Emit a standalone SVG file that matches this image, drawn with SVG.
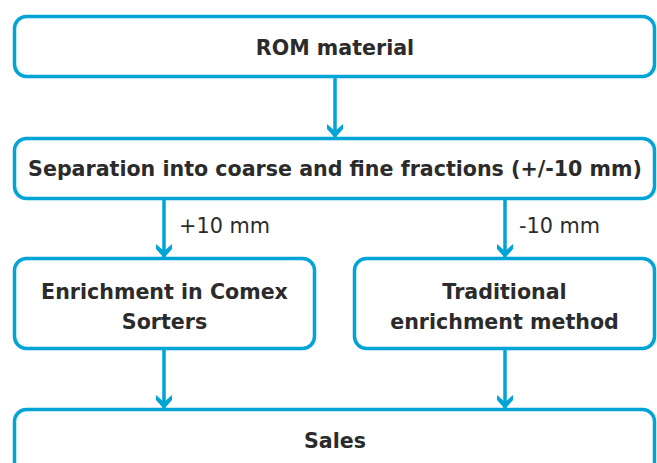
<svg xmlns="http://www.w3.org/2000/svg" width="657" height="463" viewBox="0 0 657 463">
<style>
.box{fill:#fff;stroke:#00a4d6;stroke-width:3.5}
.t{font-family:"DejaVu Sans","Liberation Sans",sans-serif;font-weight:bold;font-size:20.6px;fill:#2b2b2b;text-anchor:middle}
.l{font-family:"DejaVu Sans","Liberation Sans",sans-serif;font-size:20.8px;fill:#2b2b2b}
.c{stroke:#00a4d6;stroke-width:3.5;fill:none}
</style>
<defs>
<marker id="ah" viewBox="0 0 14 16" refX="14" refY="8" markerWidth="14" markerHeight="16" markerUnits="userSpaceOnUse" orient="auto">
<path d="M0,0 L7,8 L0,16 L5,16 L14,8 L5,0 Z" fill="#00a4d6"/>
</marker>
</defs>
<g id="rom"><rect class="box" x="14.5" y="16.5" width="640" height="60" rx="12"/><text class="t" x="335" y="55">ROM material</text></g>
<g id="sep"><rect class="box" x="14.5" y="138.5" width="640" height="60" rx="12"/><text class="t" x="335" y="176">Separation into coarse and fine fractions (+/-10 mm)</text></g>
<g id="comex"><rect class="box" x="14.5" y="258.5" width="300" height="90" rx="12"/><text class="t" x="164.5" y="299">Enrichment in Comex</text><text class="t" x="164.5" y="329">Sorters</text></g>
<g id="trad"><rect class="box" x="354.5" y="258.5" width="300" height="90" rx="12"/><text class="t" x="504.5" y="299">Traditional</text><text class="t" x="504.5" y="329">enrichment method</text></g>
<g id="sales"><rect class="box" x="14.5" y="409.5" width="640" height="80" rx="12"/><text class="t" x="335" y="448">Sales</text></g>
<g id="connectors">
<line class="c" x1="335" y1="78" x2="335" y2="138" marker-end="url(#ah)"/>
<line class="c" x1="164" y1="200" x2="164" y2="258" marker-end="url(#ah)"/>
<line class="c" x1="505" y1="200" x2="505" y2="258" marker-end="url(#ah)"/>
<line class="c" x1="164" y1="350" x2="164" y2="409" marker-end="url(#ah)"/>
<line class="c" x1="505" y1="350" x2="505" y2="409" marker-end="url(#ah)"/>
<text class="l" x="179" y="233">+10 mm</text>
<text class="l" x="519" y="233">-10 mm</text>
</g>
</svg>
